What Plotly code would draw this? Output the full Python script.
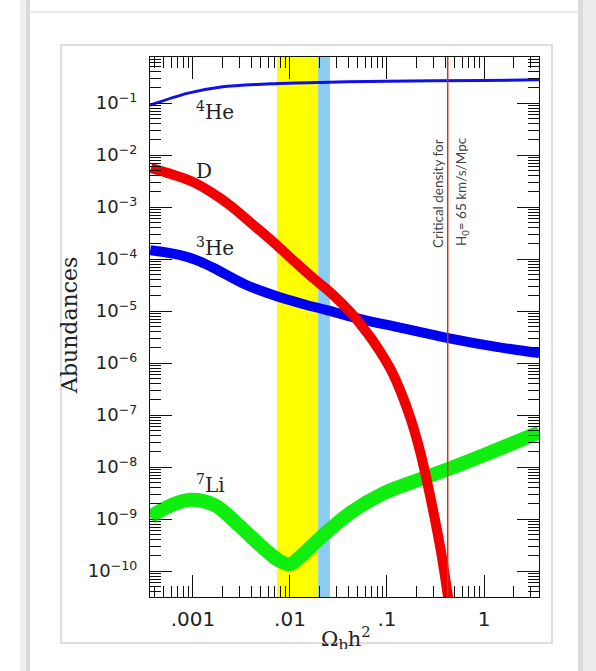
import plotly.graph_objects as go

# ---------------------------------------------------------------------------
# Big-bang nucleosynthesis: predicted light-element abundances vs Omega_b h^2
# ---------------------------------------------------------------------------

# baryon density grids (Omega_b h^2) for each curve
omega_he4 = [3.63e-4, 8.91e-4, 1.95e-3, 6.31e-3, 2.51e-2, 0.1, 1.0, 3.72]
he4 = [0.091, 0.155, 0.204, 0.234, 0.251, 0.263, 0.272, 0.279]

omega_d = [3.69e-4, 5.93e-4, 9.53e-4, 1.53e-3, 2.47e-3, 3.96e-3, 6.37e-3, 1.02e-2,
           1.64e-2, 2.65e-2, 4.26e-2, 5.40e-2, 6.84e-2, 8.67e-2, 0.110, 0.139, 0.177,
           0.224, 0.284, 0.361, 0.426, 0.457]
deuterium = [5.62e-3, 4.32e-3, 3.16e-3, 1.94e-3, 1.04e-3, 4.92e-4, 2.32e-4, 1.04e-4,
             4.71e-5, 2.22e-5, 9.16e-6, 5.38e-6, 3.03e-6, 1.56e-6, 7.33e-7, 2.77e-7,
             8.02e-8, 1.70e-8, 2.32e-9, 2.32e-10, 3.16e-11, 1.30e-11]

omega_he3 = [3.63e-4, 7.24e-4, 1.12e-3, 1.62e-3, 3.55e-3, 7.76e-3, 1.45e-2, 2.51e-2,
             5.75e-2, 0.129, 0.427, 1.35, 3.72]
he3 = [1.48e-4, 1.20e-4, 9.33e-5, 6.76e-5, 3.16e-5, 1.86e-5, 1.32e-5, 1.02e-5,
       6.76e-6, 4.90e-6, 3.02e-6, 2.04e-6, 1.55e-6]

omega_li7 = [3.63e-4, 6.03e-4, 9.55e-4, 1.66e-3, 2.82e-3, 4.90e-3, 7.59e-3, 1.0e-2,
             1.29e-2, 2.09e-2, 4.27e-2, 9.33e-2, 0.209, 0.457, 1.0, 3.72]
li7 = [1.10e-9, 1.86e-9, 2.34e-9, 1.86e-9, 8.32e-10, 3.16e-10, 1.62e-10, 1.35e-10,
       1.91e-10, 4.47e-10, 1.35e-9, 3.16e-9, 5.62e-9, 9.55e-9, 1.70e-8, 4.68e-8]

# observational concordance bands and the critical density for H0 = 65 km/s/Mpc
yellow_band = [0.00735, 0.0195]
blue_band = [0.0195, 0.0258]
critical_omega_h2 = 0.4225

# axis ticks
x_tick_vals = [0.001, 0.01, 0.1, 1]
x_tick_text = [".001", ".01", ".1", "1"]
y_exponents = list(range(1, 11))
y_tick_vals = [10.0 ** -k for k in y_exponents]
y_tick_text = ["10<sup>\u2212%d</sup>" % k for k in y_exponents]

x_minor = [m * 10.0 ** e for e in range(-4, 1) for m in range(2, 10)]
y_minor = [m * 10.0 ** e for e in range(-11, 0) for m in range(2, 10)]

# page geometry (pixels)
W, H = 596, 671
L, R, T, B = 150, 57, 57, 74
PW, PH = W - L - R, H - T - B


def px(x):
    return (x - L) / PW


def py(y):
    return (H - B - y) / PH


fig = go.Figure()

fig.add_trace(go.Scatter(x=omega_he4, y=he4, mode="lines", line_shape="spline",
                         line=dict(color="#1010e8", width=3), hoverinfo="skip"))
fig.add_trace(go.Scatter(x=omega_he3, y=he3, mode="lines", line_shape="spline",
                         line=dict(color="#0000f0", width=10), hoverinfo="skip"))
fig.add_trace(go.Scatter(x=omega_li7, y=li7, mode="lines", line_shape="spline",
                         line=dict(color="#10ee10", width=14), hoverinfo="skip"))
fig.add_trace(go.Scatter(x=omega_d, y=deuterium, mode="lines", line_shape="spline",
                         line=dict(color="#f00000", width=10), hoverinfo="skip"))

fig.add_vrect(x0=yellow_band[0], x1=yellow_band[1], fillcolor="#ffff00",
              line_width=0, layer="below")
fig.add_vrect(x0=blue_band[0], x1=blue_band[1], fillcolor="#8ccbf2",
              line_width=0, layer="below")
fig.add_vline(x=critical_omega_h2, line=dict(color="#c43a1c", width=1.5),
              layer="above")

# card frame with soft shadow around the figure
frame = [
    (20, 0, 26, H, "#f0f0f0"),
    (26, 0, 30, H, "#dadada"),
    (578, 0, 583, H, "#dcdcdc"),
    (583, 0, W, H, "#ececec"),
]
for x0, y0, x1, y1, c in frame:
    fig.add_shape(type="rect", xref="paper", yref="paper", x0=px(x0), x1=px(x1),
                  y0=py(y1), y1=py(y0), fillcolor=c, line_width=0, layer="below")
fig.add_shape(type="line", xref="paper", yref="paper", x0=px(30), x1=px(578),
              y0=py(12), y1=py(12), line=dict(color="#e4e4e4", width=1.5),
              layer="below")
fig.add_shape(type="rect", xref="paper", yref="paper", x0=px(61), x1=px(552),
              y0=py(643), y1=py(45), line=dict(color="#d4d4d4", width=1.5),
              layer="below")

serif = "DejaVu Serif"
labels = [
    ("<sup>4</sup>He", 215, 111),
    ("D", 204, 171),
    ("<sup>3</sup>He", 215, 247),
    ("<sup>7</sup>Li", 210, 484),
]
for text, x, y in labels:
    fig.add_annotation(text=text, xref="paper", yref="paper", x=px(x), y=py(y),
                       xanchor="center", yanchor="middle", showarrow=False,
                       font=dict(family=serif, size=20, color="#222"))

fig.add_annotation(text="Abundances", xref="paper", yref="paper", x=px(69), y=py(326),
                   xanchor="center", yanchor="middle", textangle=-90, showarrow=False,
                   font=dict(family=serif, size=22, color="#222"))

fig.add_annotation(text="Critical density for", xref="paper", yref="paper",
                   x=px(438), y=py(194), xanchor="center", yanchor="middle",
                   textangle=-90, showarrow=False,
                   font=dict(family="Lato", size=13.5, color="#444"))
fig.add_annotation(text="H<sub>0</sub>= 65 km/s/Mpc", xref="paper", yref="paper",
                   x=px(462), y=py(192), xanchor="center", yanchor="middle",
                   textangle=-90, showarrow=False,
                   font=dict(family="Lato", size=13.5, color="#444"))

fig.add_annotation(text="\u03a9<sub>b</sub>h<sup>2</sup>", xref="paper", yref="paper",
                   x=px(346), y=py(621), xanchor="center", yanchor="top", valign="top",
                   height=26, showarrow=False,
                   font=dict(family=serif, size=21, color="#222"))

axis_common = dict(
    type="log", showgrid=False, zeroline=False, showline=True, linecolor="#111",
    linewidth=1.3, mirror="allticks", ticks="inside", ticklen=22, tickwidth=1,
    tickcolor="#111", tickmode="array",
)

fig.update_xaxes(
    **axis_common, range=[-3.443, 0.567], tickvals=x_tick_vals, ticktext=x_tick_text,
    tickfont=dict(family="DejaVu Sans", size=20, color="#222"), ticklabelstandoff=4,
    minor=dict(tickmode="array", tickvals=x_minor, ticks="inside", ticklen=11,
               tickwidth=1, tickcolor="#111", showgrid=False),
)
fig.update_yaxes(
    **axis_common, range=[-10.5, -0.115], tickvals=y_tick_vals, ticktext=y_tick_text,
    tickfont=dict(family="DejaVu Sans", size=18, color="#222"), ticklabelstandoff=8,
    minor=dict(tickmode="array", tickvals=y_minor, ticks="inside", ticklen=11,
               tickwidth=1, tickcolor="#111", showgrid=False),
)

fig.update_layout(
    width=W, height=H, margin=dict(l=L, r=R, t=T, b=B, pad=0),
    paper_bgcolor="white", plot_bgcolor="rgba(0,0,0,0)", showlegend=False,
)

fig.write_html("out.html")
